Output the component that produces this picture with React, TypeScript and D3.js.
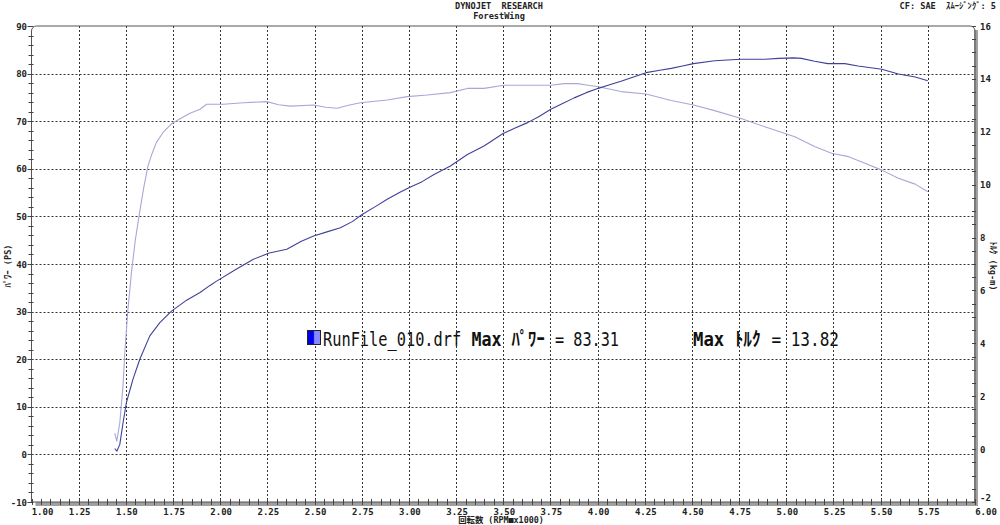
import { useEffect, useRef } from "react";
import * as d3 from "d3";

const WIDTH = 1000;
const HEIGHT = 525;
const PLOT = { left: 31.5, right: 975, top: 26, bottom: 502 };

// rpm x1000 / PS
const powerRpm = [
  1.441, 1.453, 1.468, 1.485, 1.503, 1.538, 1.574, 1.627, 1.68, 1.742, 1.822, 1.893, 1.946, 1.981,
  2.08, 2.176, 2.26, 2.353, 2.43, 2.495, 2.57, 2.637, 2.7, 2.752, 2.82, 2.885, 2.95, 3.0, 3.07,
  3.133, 3.22, 3.31, 3.398, 3.499, 3.56, 3.629, 3.69, 3.752, 3.82, 3.876, 3.94, 4.004, 4.06, 4.124,
  4.19, 4.257, 4.33, 4.39, 4.45, 4.508, 4.62, 4.757, 4.886, 4.96, 5.04, 5.08, 5.15, 5.22, 5.31,
  5.38, 5.506, 5.594, 5.683, 5.75,
];
const powerPs = [
  1.2, 0.7, 2.1, 6.6, 10.9, 15.8, 20.0, 24.9, 27.7, 30.1, 32.4, 34.0, 35.5, 36.4,
  38.8, 41.0, 42.3, 43.1, 44.8, 45.9, 46.8, 47.6, 48.9, 50.4, 52.0, 53.6, 55.0, 56.0, 57.3,
  58.8, 60.6, 63.0, 64.8, 67.4, 68.5, 69.7, 71.0, 72.5, 73.8, 74.9, 76.0, 76.9, 77.6, 78.4,
  79.3, 80.2, 80.7, 81.1, 81.6, 82.1, 82.7, 83.0, 83.0, 83.2, 83.31, 83.2, 82.6, 82.1, 82.1,
  81.6, 80.9, 79.9, 79.3, 78.5,
];

// rpm x1000 / kg-m
const torqueRpm = [
  1.441, 1.452, 1.468, 1.485, 1.494, 1.51, 1.53, 1.55, 1.574, 1.595, 1.617, 1.64, 1.662, 1.7,
  1.742, 1.79, 1.84, 1.893, 1.928, 2.017, 2.123, 2.247, 2.31, 2.371, 2.495, 2.56, 2.619, 2.68,
  2.743, 2.885, 2.991, 3.097, 3.22, 3.31, 3.398, 3.504, 3.752, 3.823, 3.894, 3.95, 4.004, 4.124,
  4.257, 4.39, 4.508, 4.62, 4.757, 4.886, 5.045, 5.15, 5.24, 5.33, 5.417, 5.506, 5.594, 5.683,
  5.75,
];
const torqueKgm = [
  0.6, 0.3, 1.0, 2.4, 3.6, 5.2, 6.7, 7.9, 9.0, 9.9, 10.7, 11.2, 11.6, 12.0,
  12.3, 12.5, 12.7, 12.85, 13.04, 13.04, 13.1, 13.14, 13.02, 12.97, 13.01, 12.93, 12.89, 13.0,
  13.1, 13.2, 13.33, 13.39, 13.48, 13.64, 13.64, 13.76, 13.76, 13.82, 13.82, 13.76, 13.7, 13.52,
  13.43, 13.18, 13.01, 12.8, 12.51, 12.19, 11.81, 11.44, 11.19, 11.06, 10.81, 10.55, 10.24, 10.02,
  9.73,
];

const xTicks = [1.0, 1.25, 1.5, 1.75, 2.0, 2.25, 2.5, 2.75, 3.0, 3.25, 3.5, 3.75, 4.0, 4.25, 4.5, 4.75, 5.0, 5.25, 5.5, 5.75, 6.0];
const psTicks = [-10, 0, 10, 20, 30, 40, 50, 60, 70, 80, 90];
const kgmTicks = [-2, 0, 2, 4, 6, 8, 10, 12, 14, 16];

const POWER_COLOR = "#40409c";
const TORQUE_COLOR = "#a8a8d8";
const MONO = "'DejaVu Sans Mono', 'Noto Sans CJK JP', monospace";

export default function App() {
  const svgRef = useRef<SVGSVGElement | null>(null);

  useEffect(() => {
    if (!svgRef.current) return;
    const svg = d3.select(svgRef.current);
    svg.selectAll("*").remove();

    const x = d3.scaleLinear().domain([1, 6]).range([PLOT.left, PLOT.right]);
    const yPs = d3.scaleLinear().domain([-10, 90]).range([PLOT.bottom, PLOT.top]);
    const yKgm = d3.scaleLinear().domain([-2, 16]).range([PLOT.bottom, PLOT.top]);

    svg.append("rect").attr("width", WIDTH).attr("height", HEIGHT).attr("fill", "#fff");

    // Header
    svg
      .append("text")
      .attr("x", 499)
      .attr("y", 8.5)
      .attr("text-anchor", "middle")
      .style("font-family", MONO)
      .style("font-weight", "bold")
      .style("font-size", "8.6px")
      .style("white-space", "pre")
      .attr("fill", "#222")
      .text("DYNOJET  RESEARCH");
    svg
      .append("text")
      .attr("x", 499)
      .attr("y", 19)
      .attr("text-anchor", "middle")
      .style("font-family", MONO)
      .style("font-weight", "bold")
      .style("font-size", "8.6px")
      .attr("fill", "#222")
      .text("ForestWing");
    svg
      .append("text")
      .attr("x", 996)
      .attr("y", 8.5)
      .attr("text-anchor", "end")
      .style("font-family", MONO)
      .style("font-weight", "bold")
      .style("font-size", "8.6px")
      .style("white-space", "pre")
      .attr("fill", "#222")
      .text("CF: SAE  ｽﾑｰｼﾞﾝｸﾞ: 5");

    // Grid
    const grid = svg.append("g").attr("stroke", "#333").attr("stroke-width", 1).attr("stroke-dasharray", "2,2");
    grid
      .selectAll("line.vx")
      .data(xTicks.slice(1, -1))
      .enter()
      .append("line")
      .attr("x1", (d) => Math.round(x(d)) + 0.5)
      .attr("x2", (d) => Math.round(x(d)) + 0.5)
      .attr("y1", PLOT.top)
      .attr("y2", PLOT.bottom);
    grid
      .selectAll("line.hy")
      .data(psTicks.slice(1, -1))
      .enter()
      .append("line")
      .attr("x1", PLOT.left)
      .attr("x2", PLOT.right)
      .attr("y1", (d) => Math.round(yPs(d)) + 0.5)
      .attr("y2", (d) => Math.round(yPs(d)) + 0.5);

    // Frame: right and bottom gray bars
    svg
      .append("line")
      .attr("x1", PLOT.right + 1)
      .attr("x2", PLOT.right + 1)
      .attr("y1", PLOT.top + 4)
      .attr("y2", PLOT.bottom + 4)
      .attr("stroke", "#a0a0a0")
      .attr("stroke-width", 4);
    svg
      .append("line")
      .attr("x1", PLOT.left + 4)
      .attr("x2", PLOT.right + 3)
      .attr("y1", PLOT.bottom + 2)
      .attr("y2", PLOT.bottom + 2)
      .attr("stroke", "#a0a0a0")
      .attr("stroke-width", 4);

    const r = 5;
    const framePath = d3.path();
    framePath.moveTo(PLOT.left, PLOT.bottom);
    framePath.lineTo(PLOT.left, PLOT.top + r);
    framePath.arcTo(PLOT.left, PLOT.top, PLOT.left + r, PLOT.top, r);
    framePath.lineTo(PLOT.right - r, PLOT.top);
    framePath.arcTo(PLOT.right, PLOT.top, PLOT.right, PLOT.top + r, r);
    framePath.lineTo(PLOT.right, PLOT.bottom);
    framePath.lineTo(PLOT.left, PLOT.bottom);
    svg
      .append("path")
      .attr("d", framePath.toString())
      .attr("fill", "none")
      .attr("stroke", "#555")
      .attr("stroke-width", 1);

    // Left axis minor ticks (every 2 PS)
    const psMinor = d3.range(-10, 90.01, 2);
    svg
      .append("g")
      .selectAll("line")
      .data(psMinor)
      .enter()
      .append("line")
      .attr("x1", (d) => (d % 10 === 0 ? PLOT.left - 4 : PLOT.left - 3))
      .attr("x2", PLOT.left + 2)
      .attr("y1", (d) => Math.round(yPs(d)) + 0.5)
      .attr("y2", (d) => Math.round(yPs(d)) + 0.5)
      .attr("stroke", "#444");

    // Right axis minor ticks (every 0.5 kg-m)
    const kgmMinor = d3.range(-2, 16.01, 0.5);
    svg
      .append("g")
      .selectAll("line")
      .data(kgmMinor)
      .enter()
      .append("line")
      .attr("x1", PLOT.right - 3)
      .attr("x2", PLOT.right + 1)
      .attr("y1", (d) => Math.round(yKgm(d)) + 0.5)
      .attr("y2", (d) => Math.round(yKgm(d)) + 0.5)
      .attr("stroke", "#444");

    // Bottom axis minor ticks (every 0.05)
    const xMinor = d3.range(1, 6.001, 0.05);
    svg
      .append("g")
      .selectAll("line")
      .data(xMinor)
      .enter()
      .append("line")
      .attr("x1", (d) => Math.round(x(d)) + 0.5)
      .attr("x2", (d) => Math.round(x(d)) + 0.5)
      .attr("y1", PLOT.bottom - 3)
      .attr("y2", PLOT.bottom + 3)
      .attr("stroke", "#444");

    // Tick labels
    const labelStyle = (sel: any) =>
      sel
        .style("font-family", MONO)
        .style("font-weight", "bold")
        .style("font-size", "9px")
        .attr("fill", "#222");

    svg
      .append("g")
      .selectAll("text")
      .data(xTicks)
      .enter()
      .append("text")
      .attr("x", (d, i) => x(d) + 1 + (i === 0 || i === xTicks.length - 1 ? 10 : 0))
      .attr("y", 514.5)
      .attr("text-anchor", "middle")
      .call(labelStyle)
      .text((d) => d3.format(".2f")(d));

    svg
      .append("g")
      .selectAll("text")
      .data(psTicks)
      .enter()
      .append("text")
      .attr("x", 27)
      .attr("y", (d) => yPs(d) + 3.5)
      .attr("text-anchor", "end")
      .call(labelStyle)
      .text((d) => `${d}`);

    svg
      .append("g")
      .selectAll("text")
      .data(kgmTicks)
      .enter()
      .append("text")
      .attr("x", 980)
      .attr("y", (d) => (d === -2 ? yKgm(d) - 1 : yKgm(d) + 3.5))
      .attr("text-anchor", "start")
      .call(labelStyle)
      .text((d) => `${d}`);

    // Axis titles
    svg
      .append("text")
      .attr("transform", `translate(11,266) rotate(-90)`)
      .attr("text-anchor", "middle")
      .style("font-family", MONO)
      .style("font-weight", "bold")
      .style("font-size", "8.6px")
      .style("white-space", "pre")
      .attr("fill", "#222")
      .text("ﾊﾟﾜｰ (PS)");
    svg
      .append("text")
      .attr("transform", `translate(990,266) rotate(90)`)
      .attr("text-anchor", "middle")
      .style("font-family", MONO)
      .style("font-weight", "bold")
      .style("font-size", "8.6px")
      .style("white-space", "pre")
      .attr("fill", "#222")
      .text("ﾄﾙｸ (kg-m)");
    svg
      .append("text")
      .attr("x", 501)
      .attr("y", 523)
      .attr("text-anchor", "middle")
      .style("font-family", MONO)
      .style("font-weight", "bold")
      .style("font-size", "8.4px")
      .attr("fill", "#222")
      .text("回転数 (RPM■x1000)");

    // Curves
    const torqueLine = d3
      .line<number>()
      .x((_, i) => x(torqueRpm[i]))
      .y((d) => yKgm(d));
    svg
      .append("path")
      .attr("d", torqueLine(torqueKgm))
      .attr("fill", "none")
      .attr("stroke", TORQUE_COLOR)
      .attr("stroke-width", 1.1)
      .attr("stroke-linejoin", "round");

    const powerLine = d3
      .line<number>()
      .x((_, i) => x(powerRpm[i]))
      .y((d) => yPs(d));
    svg
      .append("path")
      .attr("d", powerLine(powerPs))
      .attr("fill", "none")
      .attr("stroke", POWER_COLOR)
      .attr("stroke-width", 1.1)
      .attr("stroke-linejoin", "round");

    // Legend
    const defs = svg.append("defs");
    const grad = defs.append("linearGradient").attr("id", "legendGrad").attr("x1", "0").attr("x2", "1");
    grad.append("stop").attr("offset", "0").attr("stop-color", "#0000e8");
    grad.append("stop").attr("offset", "0.45").attr("stop-color", "#0000e8");
    grad.append("stop").attr("offset", "0.55").attr("stop-color", "#8888ff");
    grad.append("stop").attr("offset", "1").attr("stop-color", "#8888ff");
    svg
      .append("rect")
      .attr("x", 307.5)
      .attr("y", 330.5)
      .attr("width", 13)
      .attr("height", 14)
      .attr("fill", "url(#legendGrad)")
      .attr("stroke", "#222")
      .attr("stroke-width", 1);

    // legend pieces laid out on a half-width character grid, glyphs squeezed horizontally
    const SQUEEZE = 0.8;
    const legendPiece = (text: string, x0: number, cell: number, bold: boolean) =>
      svg
        .append("text")
        .attr("transform", `translate(${x0},346) scale(${SQUEEZE},1)`)
        .attr("textLength", (text.length * cell - 1) / SQUEEZE)
        .attr("lengthAdjust", "spacingAndGlyphs")
        .style("font-family", MONO)
        .style("font-size", "19px")
        .style("font-weight", bold ? "bold" : "normal")
        .style("white-space", "pre")
        .attr("fill", "#111")
        .text(text);

    const c1 = 9.28;
    legendPiece("RunFile_010.drf", 323, c1, false);
    legendPiece("Max ﾊﾟﾜｰ", 323 + 16 * c1, c1, true);
    legendPiece("= 83.31", 323 + 25 * c1, c1, false);

    const c2 = 9.8;
    legendPiece("Max ﾄﾙｸ", 693, c2, true);
    legendPiece("= 13.82", 693 + 8 * c2, c2, false);
  }, []);

  return (
    <svg
      ref={svgRef}
      width={WIDTH}
      height={HEIGHT}
      style={{ position: "absolute", left: 0, top: 0 }}
    />
  );
}
